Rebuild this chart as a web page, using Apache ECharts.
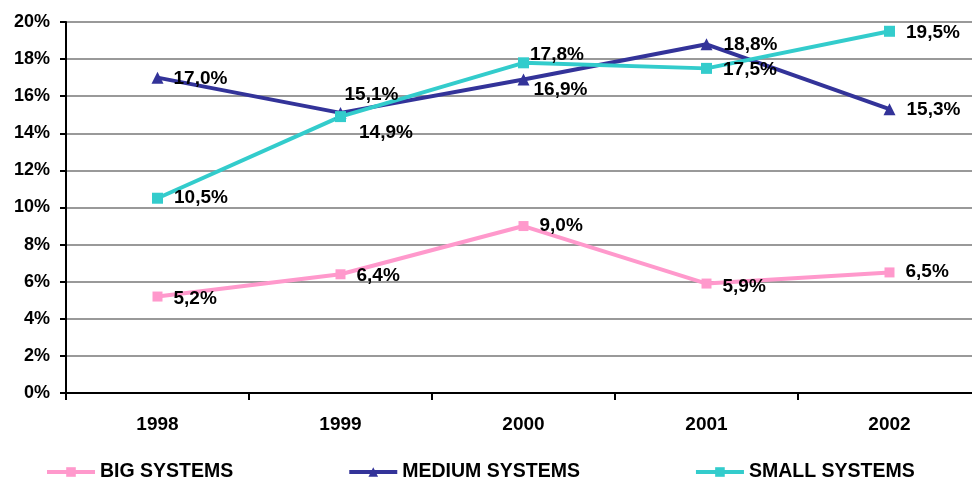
<!DOCTYPE html>
<html>
<head>
<meta charset="utf-8">
<script src="https://cdn.jsdelivr.net/npm/echarts@6/dist/echarts.min.js"></script>
<style>
  html, body { margin: 0; padding: 0; background: #fff; overflow: hidden; }
  /* plot runs a little past the right edge in the original */
  #chart { width: 981px; height: 480px; }
</style>
</head>
<body>
<div id="chart"></div>
<script>
// data
var years = ['1998', '1999', '2000', '2001', '2002'];
var bigSystems = [5.2, 6.4, 9.0, 5.9, 6.5];
var mediumSystems = [17.0, 15.1, 16.9, 18.8, 15.3];
var smallSystems = [10.5, 14.9, 17.8, 17.5, 19.5];

// label nudges [dx, dy] so labels sit like in the original
var bigNudge = [[-1, 2], [-1, 1], [-1, 0], [-1, 3], [-1, -1]];
var mediumNudge = [[-2, 1], [-14, -18], [-8, 10], [-1, 1], [-1, 1]];
var smallNudge = [[-1, 0], [1, 16], [-11, -8], [-1, 1], [-1, 1]];

var font = 'Liberation Sans, Arial, sans-serif';

function fmt(v) {
  return v.toFixed(1).replace('.', ',') + '%';
}

function points(values, nudge) {
  return values.map(function (v, i) {
    return { value: v, label: { offset: nudge[i] } };
  });
}

function makeSeries(name, values, nudge, color, symbol, size) {
  return {
    name: name,
    type: 'line',
    data: points(values, nudge),
    symbol: symbol,
    symbolSize: size,
    lineStyle: { color: color, width: 4 },
    itemStyle: { color: color },
    label: {
      show: true,
      position: 'right',
      distance: 12,
      color: '#000',
      fontFamily: font,
      fontWeight: 'bold',
      fontSize: 19,
      formatter: function (p) { return fmt(p.value); }
    },
    animation: false
  };
}

var chart = echarts.init(document.getElementById('chart'));
chart.setOption({
  animation: false,
  grid: { left: 66, top: 22, bottom: 87, right: 0 },
  legend: {
    left: 45,
    top: 462,
    padding: 0,
    itemWidth: 48,
    itemHeight: 12,
    itemGap: 114,
    lineStyle: { width: 4 },
    textStyle: { fontFamily: font, fontWeight: 'bold', fontSize: 19.5, color: '#000' },
    data: ['BIG SYSTEMS', 'MEDIUM SYSTEMS', 'SMALL SYSTEMS']
  },
  xAxis: {
    type: 'category',
    data: years,
    boundaryGap: true,
    axisLine: { lineStyle: { color: '#000', width: 2 } },
    axisTick: { show: true, length: 7, lineStyle: { color: '#000', width: 2 } },
    axisLabel: { color: '#000', fontFamily: font, fontWeight: 'bold', fontSize: 19, margin: 22 }
  },
  yAxis: {
    type: 'value',
    min: 0,
    max: 20,
    interval: 2,
    axisLine: { show: true, lineStyle: { color: '#000', width: 2 } },
    axisTick: { show: true, length: 6, lineStyle: { color: '#000', width: 2 } },
    axisLabel: { color: '#000', fontFamily: font, fontWeight: 'bold', fontSize: 18, margin: 16, formatter: '{value}%' },
    splitLine: { lineStyle: { color: '#777', width: 1.5 } }
  },
  series: [
    makeSeries('BIG SYSTEMS', bigSystems, bigNudge, '#FF99CC', 'rect', 10),
    makeSeries('MEDIUM SYSTEMS', mediumSystems, mediumNudge, '#333399', 'triangle', 12),
    makeSeries('SMALL SYSTEMS', smallSystems, smallNudge, '#33CCCC', 'rect', 11)
  ]
});
</script>
</body>
</html>
